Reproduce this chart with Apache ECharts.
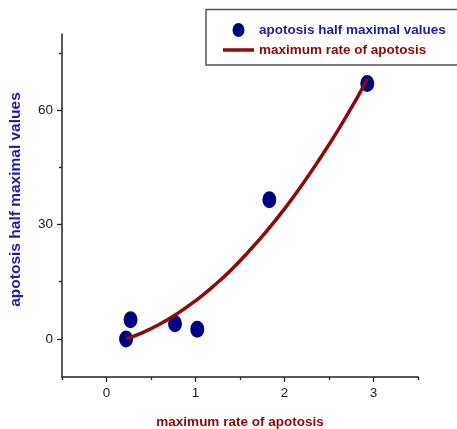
<!DOCTYPE html>
<html>
<head>
<meta charset="utf-8">
<script src="https://cdn.jsdelivr.net/npm/echarts@6/dist/echarts.min.js"></script>
<style>
  html, body { margin: 0; padding: 0; background: #fff; }
  #chart { width: 457px; height: 429px; }
</style>
</head>
<body>
<div id="chart"></div>
<script>
// Measured points: apoptosis half-maximal values vs. maximum rate
const scatterX = [0.22, 0.27, 0.77, 1.02, 1.83, 2.93];
const scatterY = [0.0, 5.0, 4.0, 2.5, 36.5, 67.0];

// Fitted curve, sampled along the drawn line
const curveX = [0.22, 0.4, 0.6, 0.8, 1.0, 1.2, 1.4, 1.6, 1.8, 2.0, 2.2, 2.4, 2.6, 2.8, 2.93];
const curveY = [0.0, 1.6, 3.9, 6.7, 10.0, 13.8, 18.1, 23.0, 28.3, 34.1, 40.5, 47.4, 54.7, 62.6, 68.2];

// Axis ticks
const xMajorTicks = [0, 1, 2, 3];
const xMinorTicks = [-0.5, 0.5, 1.5, 2.5, 3.5];
const yMajorTicks = [0, 30, 60];
const yMinorTicks = [15, 45, 75];

const seriesNames = ['apotosis half maximal values', 'maximum rate of apotosis'];

const scatterData = scatterX.map((x, i) => [x, scatterY[i]]);
const curveData = curveX.map((x, i) => [x, curveY[i]]);

const FONT = '"Liberation Sans", Arial, sans-serif';
const BLUE = '#1c1ca8';
const NAVY = '#000083';
const DARKRED = '#8b0a0a';

const chart = echarts.init(document.getElementById('chart'), null, { renderer: 'canvas' });

const xRange = { min: -0.5, max: 3.5 };
const yRange = { min: -10, max: 80 };

chart.setOption({
  animation: false,
  backgroundColor: '#fff',
  grid: { left: 62, right: 39, top: 34, bottom: 52, outerBoundsMode: 'none', containLabel: false },
  graphic: [{
    type: 'rect',
    shape: { x: 206, y: 9.5, width: 270, height: 55.5 },
    style: { fill: 'none', stroke: '#555', lineWidth: 1.5 },
    z: 100
  }],
  legend: {
    orient: 'vertical',
    left: 223,
    top: 23,
    itemWidth: 31,
    itemHeight: 14,
    itemGap: 6,
    padding: 0,
    data: [
      { name: seriesNames[0], icon: 'path://M6,0 A6,7 0 1 1 5.99,0 Z', textStyle: { color: BLUE } },
      { name: seriesNames[1], icon: 'path://M0,0 L31,0 L31,3.5 L0,3.5 Z', textStyle: { color: DARKRED } }
    ],
    textStyle: { fontFamily: FONT, fontWeight: 'bold', fontSize: 13.5 }
  },
  xAxis: [{
    type: 'value',
    min: xRange.min, max: xRange.max,
    position: 'bottom',
    name: 'maximum rate of apotosis',
    nameLocation: 'middle',
    nameGap: 38,
    nameTextStyle: { color: DARKRED, fontFamily: FONT, fontWeight: 'bold', fontSize: 13.5 },
    axisLine: { onZero: false, lineStyle: { color: '#222', width: 1.5 } },
    axisTick: { show: true, customValues: xMajorTicks, length: 5, lineStyle: { color: '#222', width: 1.3 } },
    axisLabel: { customValues: xMajorTicks, margin: 9, color: '#222', fontFamily: FONT, fontSize: 13.5 },
    splitLine: { show: false }
  }, {
    type: 'value',
    min: xRange.min, max: xRange.max,
    position: 'bottom',
    axisLine: { show: false, onZero: false },
    axisTick: { show: true, customValues: xMinorTicks, length: 3, lineStyle: { color: '#222', width: 1.3 } },
    axisLabel: { show: false },
    splitLine: { show: false }
  }],
  yAxis: [{
    type: 'value',
    min: yRange.min, max: yRange.max,
    position: 'left',
    name: 'apotosis half maximal values',
    nameLocation: 'middle',
    nameGap: 38,
    nameTextStyle: { color: BLUE, fontFamily: FONT, fontWeight: 'bold', fontSize: 15.5, padding: [0, 0, 0, 12] },
    axisLine: { onZero: false, lineStyle: { color: '#222', width: 1.5 } },
    axisTick: { show: true, customValues: yMajorTicks, length: 5, lineStyle: { color: '#222', width: 1.3 } },
    axisLabel: { customValues: yMajorTicks, margin: 9, color: '#222', fontFamily: FONT, fontSize: 13.5 },
    splitLine: { show: false }
  }, {
    type: 'value',
    min: yRange.min, max: yRange.max,
    position: 'left',
    axisLine: { show: false, onZero: false },
    axisTick: { show: true, customValues: yMinorTicks, length: 3, lineStyle: { color: '#222', width: 1.3 } },
    axisLabel: { show: false },
    splitLine: { show: false }
  }],
  series: [{
    name: seriesNames[0],
    type: 'scatter',
    data: scatterData,
    symbol: 'circle',
    symbolSize: [14, 17],
    itemStyle: { color: NAVY, opacity: 1 },
    z: 2
  }, {
    name: seriesNames[1],
    type: 'line',
    data: curveData,
    smooth: true,
    showSymbol: false,
    symbol: 'none',
    lineStyle: { color: DARKRED, width: 3.5 },
    itemStyle: { color: DARKRED },
    z: 3
  }]
});
</script>
</body>
</html>
